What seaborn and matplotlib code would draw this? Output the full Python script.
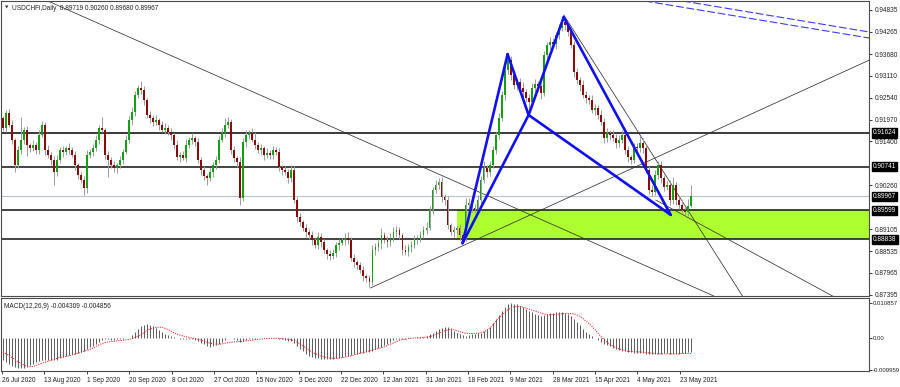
import numpy as np
import matplotlib
matplotlib.use("Agg")
import matplotlib.pyplot as plt
import matplotlib.transforms as mtransforms
from matplotlib.patches import Rectangle
import seaborn as sns

# ---------------- data ----------------
symbol_title = "USDCHFi,Daily  0.89719 0.90260 0.89680 0.89967"
macd_title = "MACD(12,26,9) -0.004309 -0.004856"

open_first = 0.9200
closes = [
    0.9175, 0.9214, 0.9183, 0.9144, 0.9078, 0.9118, 0.9144, 0.9170, 0.9131, 0.9123,
    0.9131, 0.9118, 0.9157, 0.9183, 0.9118, 0.9105, 0.9091, 0.9060, 0.9091, 0.9118,
    0.9112, 0.9123, 0.9118, 0.9105, 0.9078, 0.9052, 0.9039, 0.9018, 0.9105, 0.9112,
    0.9123, 0.9144, 0.9175, 0.9170, 0.9105, 0.9091, 0.9078, 0.9071, 0.9078, 0.9091,
    0.9112, 0.9144, 0.9196, 0.9217, 0.9261, 0.9280, 0.9274, 0.9248, 0.9209, 0.9201,
    0.9191, 0.9196, 0.9183, 0.9170, 0.9175, 0.9165, 0.9157, 0.9131, 0.9099, 0.9105,
    0.9097, 0.9131, 0.9144, 0.9149, 0.9138, 0.9091, 0.9065, 0.9050, 0.9044, 0.9060,
    0.9078, 0.9091, 0.9144, 0.9162, 0.9183, 0.9191, 0.9118, 0.9097, 0.9086, 0.8992,
    0.9138, 0.9157, 0.9162, 0.9144, 0.9131, 0.9118, 0.9123, 0.9105, 0.9110, 0.9105,
    0.9118, 0.9112, 0.9073, 0.9065, 0.9060, 0.9044, 0.9065, 0.8987, 0.8942, 0.8929,
    0.8914, 0.8903, 0.8895, 0.8882, 0.8869, 0.8890, 0.8877, 0.8856, 0.8846, 0.8840,
    0.8848, 0.8869, 0.8874, 0.8882, 0.8888, 0.8882, 0.8835, 0.8825, 0.8817, 0.8804,
    0.8788, 0.8783, 0.8773, 0.8856, 0.8864, 0.8874, 0.8895, 0.8882, 0.8877, 0.8888,
    0.8903, 0.8908, 0.8895, 0.8856, 0.8851, 0.8864, 0.8869, 0.8882, 0.8888, 0.8895,
    0.8908, 0.8914, 0.8961, 0.9013, 0.9026, 0.9034, 0.8995, 0.8987, 0.8922, 0.8903,
    0.8908, 0.8914, 0.8895, 0.8888, 0.8974, 0.8979, 0.8966, 0.8961, 0.8987, 0.9039,
    0.9071, 0.9060, 0.9078, 0.9118, 0.9157, 0.9201, 0.9261, 0.9327, 0.9353, 0.9314,
    0.9287, 0.9295, 0.9280, 0.9269, 0.9253, 0.9243, 0.9280, 0.9290, 0.9285, 0.9267,
    0.9366, 0.9392, 0.9400, 0.9395, 0.9418, 0.9436, 0.9452, 0.9444, 0.9426, 0.9392,
    0.9321, 0.9300, 0.9287, 0.9261, 0.9253, 0.9248, 0.9222, 0.9227, 0.9209, 0.9191,
    0.9149, 0.9162, 0.9157, 0.9149, 0.9136, 0.9144, 0.9157, 0.9118, 0.9099, 0.9091,
    0.9125, 0.9123, 0.9136, 0.9123, 0.9065, 0.9013, 0.9008, 0.9052, 0.9078, 0.9044,
    0.9021, 0.9026, 0.8987, 0.9026, 0.8987, 0.8974, 0.8961, 0.8955, 0.89719, 0.89967,
]
# upper / lower shadows, in pips (0.0001)
wick_up_pips = [
    6, 8, 10, 12, 6, 10, 60, 8, 10, 6,   12, 8, 14, 10, 8, 12, 6, 10, 14, 8,
    10, 6, 12, 8, 10, 6, 8, 10, 12, 8,   10, 12, 8, 30, 6, 10, 8, 12, 6, 10,
    8, 12, 10, 14, 10, 8, 18, 12, 6, 10,   8, 12, 6, 10, 14, 8, 10, 6, 12, 8,
    10, 14, 8, 12, 6, 10, 8, 12, 6, 10,   8, 12, 10, 14, 18, 13, 8, 10, 6, 12,
    10, 14, 8, 12, 20, 8, 10, 6, 12, 8,   10, 8, 12, 6, 10, 8, 14, 12, 8, 10,
    6, 10, 8, 12, 6, 14, 10, 8, 6, 10,   12, 8, 10, 6, 12, 14, 8, 10, 6, 8,
    10, 6, 8, 14, 10, 12, 18, 8, 10, 12,   14, 10, 8, 6, 12, 8, 10, 14, 8, 10,
    12, 16, 10, 8, 14, 10, 12, 8, 10, 6,   12, 8, 10, 6, 18, 12, 8, 10, 14, 10,
    18, 8, 12, 10, 8, 12, 10, 14, 18, 10,   12, 8, 10, 14, 8, 10, 12, 14, 8, 10,
    10, 8, 12, 10, 8, 10, 13, 10, 12, 8,   10, 12, 8, 14, 10, 8, 12, 10, 8, 12,
    10, 14, 8, 12, 10, 14, 12, 8, 10, 6,   12, 10, 18, 14, 8, 10, 12, 14, 10, 12,
    8, 10, 12, 20, 8, 10, 14, 8, 18, 29,
]
wick_dn_pips = [
    8, 10, 6, 10, 18, 8, 10, 12, 30, 10,   8, 12, 10, 6, 14, 8, 12, 35, 10, 8,
    12, 8, 10, 6, 12, 10, 8, 18, 12, 8,   10, 8, 12, 6, 10, 45, 8, 10, 14, 8,
    10, 6, 8, 12, 10, 8, 10, 14, 8, 12,   10, 8, 12, 6, 10, 8, 14, 10, 8, 12,
    6, 10, 8, 12, 10, 8, 14, 10, 18, 8,   12, 10, 8, 6, 10, 8, 12, 10, 14, 18,
    8, 12, 10, 6, 12, 8, 10, 14, 8, 10,   12, 8, 10, 12, 8, 14, 10, 8, 12, 10,
    8, 12, 10, 14, 8, 10, 12, 8, 14, 10,   8, 10, 12, 6, 14, 10, 8, 12, 10, 8,
    12, 10, 13, 8, 12, 10, 14, 8, 12, 10,   8, 12, 10, 14, 8, 10, 12, 8, 10, 12,
    8, 10, 6, 12, 8, 10, 14, 12, 10, 8,   12, 10, 14, 13, 8, 12, 10, 8, 12, 10,
    8, 12, 10, 8, 12, 10, 8, 12, 10, 14,   10, 12, 8, 14, 10, 18, 8, 10, 12, 16,
    8, 12, 10, 8, 14, 10, 8, 12, 10, 8,   12, 10, 14, 8, 12, 10, 8, 14, 10, 8,
    12, 10, 14, 8, 12, 10, 8, 12, 14, 10,   8, 12, 10, 14, 8, 10, 12, 8, 10, 12,
    10, 8, 14, 10, 12, 10, 8, 12, 10, 4,
]
# MACD main (histogram) and signal, in units of 1e-4
macd_e4 = [
    -69, -75, -82, -88, -92, -94, -94, -93, -90, -85,
    -80, -75, -72, -70, -69, -68, -68, -69, -70, -62,
    -60, -58, -55, -52, -50, -48, -45, -40, -35, -30,
    -26, -20, -12, -6, -4, -5, -6, -6, -5, -5,
    -4, -2, 0, 8, 18, 28, 36, 40, 42, 40,
    36, 30, 24, 18, 12, 8, 4, 1, -2, -4,
    -5, -5, -4, -4, -6, -10, -15, -20, -25, -28,
    -27, -24, -18, -12, -6, -2, 0, -3, -8, -14,
    -10, -7, -5, -4, -3, -2, -1, 0, 0, -1,
    0, -1, -3, -5, -7, -9, -10, -15, -25, -35,
    -42, -50, -56, -60, -63, -64, -65, -66, -67, -67,
    -66, -64, -62, -60, -58, -56, -54, -52, -50, -48,
    -46, -45, -44, -40, -36, -32, -28, -24, -18, -12,
    -7, -5, -4, -3, -3, -2, -1, 0, 1, 2,
    3, 5, 10, 16, 22, 27, 30, 33, 32, 30,
    22, 15, 10, 8, 6, 8, 10, 12, 14, 16,
    22, 28, 34, 45, 58, 70, 82, 95, 104, 107,
    106, 103, 99, 94, 88, 83, 79, 75, 71, 68,
    70, 73, 76, 78, 79, 80, 79, 76, 73, 66,
    58, 48, 38, 28, 18, 10, 4, -1, -6, -12,
    -18, -23, -27, -31, -34, -37, -40, -42, -44, -45,
    -46, -46, -47, -48, -50, -52, -51, -50, -49, -49,
    -48, -48, -49, -49, -50, -49, -48, -46, -44, -43,
]
signal_e4 = [
    -45, -50, -55, -62, -68, -74, -80, -85, -89, -90,
    -89, -86, -82, -79, -76, -73, -70, -67, -64, -61,
    -60, -58, -56, -53, -51, -48, -45, -42, -39, -36,
    -32, -27, -22, -18, -15, -13, -12, -11, -10, -9,
    -8, -7, -5, -3, 1, 5, 10, 16, 22, 27,
    30, 32, 33, 32, 29, 25, 20, 15, 11, 8,
    5, 3, 1, -1, -3, -5, -8, -11, -14, -17,
    -19, -20, -20, -19, -17, -15, -14, -13, -12, -12,
    -11, -10, -9, -8, -6, -5, -4, -3, -2, -2,
    -2, -2, -2, -3, -4, -5, -7, -10, -14, -20,
    -26, -33, -40, -45, -50, -54, -57, -60, -62, -63,
    -64, -64, -63, -62, -60, -58, -56, -53, -50, -48,
    -46, -43, -41, -38, -36, -34, -31, -28, -24, -20,
    -16, -12, -8, -6, -4, -3, -2, -1, 0, 0,
    1, 2, 3, 6, 10, 14, 18, 21, 24, 26,
    25, 22, 19, 16, 14, 13, 13, 13, 14, 15,
    18, 23, 30, 38, 50, 60, 70, 78, 86, 92,
    95, 97, 97, 95, 92, 89, 86, 83, 80, 77,
    74, 72, 71, 72, 72, 73, 74, 75, 75, 75,
    74, 71, 67, 60, 52, 45, 36, 26, 15, 4,
    -5, -13, -20, -26, -30, -34, -37, -40, -42, -43,
    -43, -44, -44, -45, -46, -47, -48, -49, -50, -50,
    -50, -50, -50, -50, -50, -50, -49, -49, -49, -49,
]

date_labels = ["26 Jul 2020", "13 Aug 2020", "1 Sep 2020", "20 Sep 2020", "8 Oct 2020",
               "27 Oct 2020", "15 Nov 2020", "3 Dec 2020", "22 Dec 2020", "12 Jan 2021",
               "31 Jan 2021", "18 Feb 2021", "9 Mar 2021", "28 Mar 2021", "15 Apr 2021",
               "4 May 2021", "23 May 2021"]
price_ticks = [0.94835, 0.94265, 0.93680, 0.93110, 0.92540, 0.91970, 0.91400,
               0.90260, 0.89105, 0.88535, 0.87965, 0.87395]
level_lines = [0.91624, 0.90741, 0.89599, 0.88838]
last_price = 0.89967
zone_low, zone_high = 0.88838, 0.89599
macd_ticks = [0.010857, 0.0, -0.009959]
macd_tick_labels = ["0.010857", "0.00", "-0.009959"]

# drawn objects: (bar index, price)
pattern = {"X": (153.0, 0.8874), "A": (168.0, 0.9368), "B": (175.0, 0.9209),
           "C": (186.7, 0.9465), "D": (222.3, 0.8948)}
pattern_legs = [("X", "A"), ("A", "B"), ("B", "C"), ("C", "D"), ("X", "B"), ("B", "D")]
trend_infinite = [((15.67, 0.95044), (236.67, 0.87359))]
trend_rays = [((122.3, 0.87568), (300.0, 0.93940)),
              ((186.7, 0.94704), (250.0, 0.86890)),
              ((217.3, 0.89868), (290.0, 0.86770))]
blue_dashed = [((215.67, 0.95044), (288.33, 0.94103)),
               ((228.33, 0.95044), (288.33, 0.94260))]

# ---------------- figure ----------------
sns.set_theme(style="white")
plt.rcParams['font.family'] = ['Liberation Sans', 'DejaVu Sans']
FS = 4.7

W, H = 900, 387
fig = plt.figure(figsize=(W / 100, H / 100), dpi=100)
fig.patch.set_facecolor("white")


def px_box(x0, y0, x1, y1):
    return [x0 / W, 1 - y1 / H, (x1 - x0) / W, (y1 - y0) / H]


ax = fig.add_axes(px_box(1, 1, 869, 296))
axm = fig.add_axes(px_box(1, 298, 869, 371))

n = len(closes)
idx = np.arange(n)
c = np.array(closes)
o = np.r_[open_first, c[:-1]]
hi = np.maximum(o, c) + np.array(wick_up_pips) * 1e-4
lo = np.minimum(o, c) - np.array(wick_dn_pips) * 1e-4

XMIN, XMAX = -0.67, 288.33
ax.set_xlim(XMIN, XMAX)
ax.set_ylim(0.87359, 0.95070)

# zone
ax.add_patch(Rectangle((151.3, zone_low), 200, zone_high - zone_low,
                       facecolor="#adff2f", edgecolor="none", zorder=1))
# levels
for lv in level_lines:
    ax.axhline(lv, color="#111111" if lv != 0.91624 else "#3a3a3a",
               lw=1.1 if lv != 0.91624 else 1.4, zorder=2)
ax.axhline(last_price, color="#b8c2cc", lw=0.8, zorder=2)

# trendlines
for p0, p1 in trend_infinite:
    ax.axline(p0, p1, color="#333333", lw=0.55, zorder=2)
for p0, p1 in trend_rays:
    sns.lineplot(x=[p0[0], p1[0]], y=[p0[1], p1[1]], ax=ax, color="#333333",
                 lw=0.55, zorder=2, sort=False, estimator=None)
for p0, p1 in blue_dashed:
    ax.axline(p0, p1, color="#3a3aff", lw=0.8, dashes=(7, 2.5), zorder=2)

# candles
ax.vlines(idx, lo, hi, color="#9c9c9c", lw=0.7, zorder=3)
up = c >= o
body_bottom = np.minimum(o, c)
body_h = np.maximum(np.abs(c - o), 0.00006)
ax.bar(idx[up], body_h[up], bottom=body_bottom[up], width=0.62,
       color="#14a014", edgecolor="none", zorder=4)
ax.bar(idx[~up], body_h[~up], bottom=body_bottom[~up], width=0.62,
       color="#8b0b0b", edgecolor="none", zorder=4)

# harmonic pattern
for a, b in pattern_legs:
    sns.lineplot(x=[pattern[a][0], pattern[b][0]], y=[pattern[a][1], pattern[b][1]],
                 ax=ax, color="#1010f0", lw=1.9, zorder=5, sort=False, estimator=None)

# price axis
ax.yaxis.tick_right()
ax.set_yticks(price_ticks)
ax.set_yticklabels([f"{t:.5f}" for t in price_ticks])
ax.tick_params(axis="y", which="major", right=True, length=2.5, width=0.6,
               pad=1.5, labelsize=FS, colors="#222222")
ax.set_xticks([])
ax.set_xlabel("")
ax.set_ylabel("")
trans = mtransforms.blended_transform_factory(ax.transAxes, ax.transData)
for lv in level_lines + [last_price]:
    ax.text(1.0045, lv, f"{lv:.5f}", transform=trans, ha="left", va="center",
            fontsize=FS, color="white", zorder=10, clip_on=False,
            bbox=dict(boxstyle="square,pad=0.18", facecolor="black", edgecolor="black"))

ax.text(0.0045, 0.985, "\u25bc", transform=ax.transAxes, fontsize=3.2, color="#333",
        ha="left", va="top", family=["DejaVu Sans"])
ax.text(0.0125, 0.987, symbol_title, transform=ax.transAxes, fontsize=FS, color="#222",
        ha="left", va="top")

for ax_ in (ax, axm):
    for s in ax_.spines.values():
        s.set_color("#4a4a4a")
        s.set_linewidth(0.8)
    ax_.set_facecolor("white")
    ax_.grid(False)

# MACD panel
axm.set_xlim(XMIN, XMAX)
axm.set_ylim(-0.01032, 0.01231)
mac = np.array(macd_e4) * 1e-4
sig = np.array(signal_e4) * 1e-4
axm.vlines(idx, 0, mac, color="#5a5a5a", lw=0.7, zorder=3)
sns.lineplot(x=idx, y=sig, ax=axm, color="#ff2020", lw=0.7, dashes=False,
             linestyle=(0, (1.2, 1.2)), zorder=4)
axm.yaxis.tick_right()
axm.set_yticks(macd_ticks)
axm.set_yticklabels(macd_tick_labels)
axm.tick_params(axis="y", right=True, length=2.0, width=0.6, pad=1.0,
                labelsize=4.3, colors="#222222")
tick_pos = np.arange(len(date_labels)) * 14.1 - 0.3
axm.set_xticks(tick_pos)
axm.set_xticklabels(date_labels, ha="left")
axm.tick_params(axis="x", bottom=True, length=2.5, width=0.6, pad=2,
                labelsize=FS, colors="#222222")
axm.set_xlabel("")
axm.set_ylabel("")
axm.text(0.004, 0.93, macd_title, transform=axm.transAxes, fontsize=FS, color="#222",
         ha="left", va="top")

fig.savefig("out.png", dpi=100, facecolor="white")
